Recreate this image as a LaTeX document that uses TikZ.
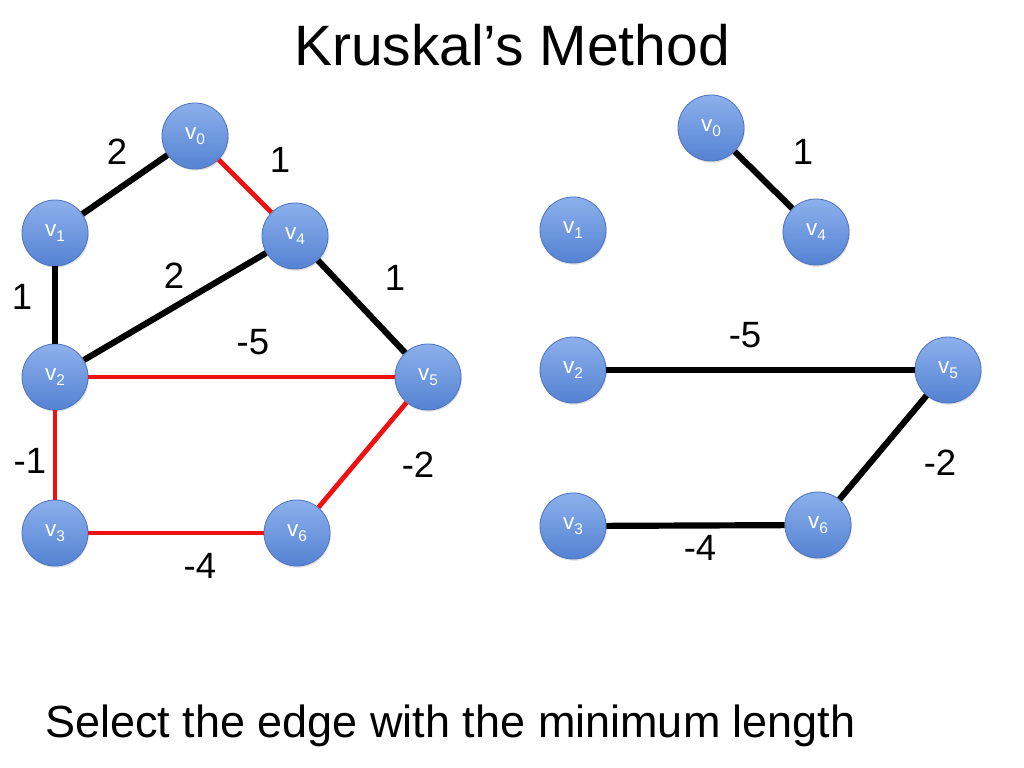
\documentclass[tikz,border=0pt]{standalone}
\usepackage{fontspec}
\setmainfont{Liberation Sans}
\usetikzlibrary{positioning,shadows}
\definecolor{vtop}{RGB}{140,176,236}
\definecolor{vbot}{RGB}{84,130,210}
\definecolor{vrim}{RGB}{80,118,192}
\definecolor{kred}{RGB}{240,16,16}
\newcommand{\vlab}[1]{v\raisebox{-0.4ex}{\fontsize{11}{11}\selectfont #1}}

\begin{document}
\begin{tikzpicture}[x=0.025cm,y=-0.025cm,
vert/.style={circle,minimum size=1.65cm,inner sep=0pt,draw=vrim,line width=0.6pt,top color=vtop,bottom color=vbot,text=white,font=\fontsize{16}{16}\selectfont,drop shadow={opacity=0.25,shadow xshift=0.6pt,shadow yshift=-1.2pt}},
blk/.style={line width=4.4pt,black},
rd/.style={line width=3.4pt,kred},
wt/.style={font=\fontsize{26}{26}\selectfont}]
\useasboundingbox (0,0) rectangle (1024,768);
\node[font=\fontsize{40.5}{40.5}\selectfont] (title) at (512,45) {Kruskal’s Method};
\node[vert] (a0) at (195,136) {\vlab{0}}; \node[vert] (a1) at (55,233) {\vlab{1}}; \node[vert] (a4) at (295,236) {\vlab{4}};
\node[vert] (a2) at (55,377) {\vlab{2}}; \node[vert] (a5) at (428,377) {\vlab{5}};
\node[vert] (a3) at (55,533) {\vlab{3}}; \node[vert] (a6) at (297,533) {\vlab{6}};
\draw[blk] (a0) -- (a1); \draw[blk] (a1) -- (a2); \draw[blk] (a4) -- (a2); \draw[blk] (a4) -- (a5);
\draw[rd] (a0) -- (a4); \draw[rd] (a2) -- (a5); \draw[rd] (a2) -- (a3); \draw[rd] (a3) -- (a6); \draw[rd] (a6) -- (a5);
\node[wt] (w01) at (117,152) {2}; \node[wt] (w04) at (280,160) {1}; \node[wt] (w12) at (22,297) {1};
\node[wt] (w24) at (174,276) {2}; \node[wt] (w45) at (395,278) {1}; \node[wt] (w25) at (253,342) {-5};
\node[wt] (w23) at (30,461) {-1}; \node[wt] (w56) at (418,465) {-2}; \node[wt] (w36) at (200,566) {-4};
\node[vert] (b0) at (711,128) {\vlab{0}}; \node[vert] (b1) at (573,230) {\vlab{1}}; \node[vert] (b4) at (816,232) {\vlab{4}};
\node[vert] (b2) at (573,370) {\vlab{2}}; \node[vert] (b5) at (948,370) {\vlab{5}};
\node[vert] (b3) at (573,526) {\vlab{3}}; \node[vert] (b6) at (818,525) {\vlab{6}};
\draw[blk] (b0) -- (b4); \draw[blk] (b2) -- (b5); \draw[blk] (b5) -- (b6); \draw[blk] (b3) -- (b6);
\node[wt] (u04) at (803,152) {1}; \node[wt] (u25) at (745,335) {-5}; \node[wt] (u56) at (940,463) {-2}; \node[wt] (u36) at (700,548) {-4};
\node[font=\fontsize{32}{32}\selectfont,anchor=base west,inner sep=0pt] (note) at (45,737) {Select the edge with the minimum length};
\end{tikzpicture}
\end{document}
